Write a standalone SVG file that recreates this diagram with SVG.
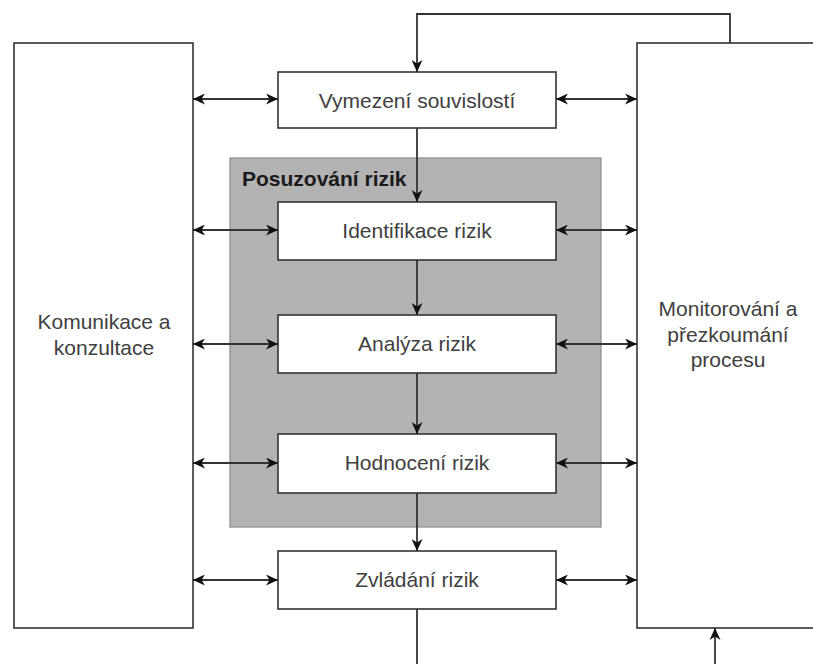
<svg xmlns="http://www.w3.org/2000/svg" width="813" height="664" viewBox="0 0 813 664">
<style>
.box{fill:#ffffff;stroke:#333333;stroke-width:1.6}
.grp{fill:#b3b3b3;stroke:#8a8a8a;stroke-width:1.2}
.lbl{font-family:"Liberation Sans",Arial,Helvetica,sans-serif;font-size:21px;fill:#404040;text-anchor:middle}
.bold{font-family:"Liberation Sans",Arial,Helvetica,sans-serif;font-size:21px;font-weight:bold;fill:#1a1a1a}
.ln{fill:none;stroke:#333333;stroke-width:1.8}
.arr{marker-end:url(#ah)}
.bi{marker-start:url(#ah);marker-end:url(#ah)}
</style>
<defs>
<marker id="ah" viewBox="0 0 12 11" refX="12" refY="5.5" markerWidth="12" markerHeight="11" markerUnits="userSpaceOnUse" orient="auto-start-reverse">
<path d="M0,0 L12,5.5 L0,11 L3.5,5.5 z" fill="#111111"/>
</marker>
</defs>
<rect width="813" height="664" fill="#ffffff"/>
<g id="komunikace">
<rect class="box" x="14" y="43" width="179" height="585"/>
<text class="lbl" x="104" y="329">Komunikace a</text>
<text class="lbl" x="104" y="355">konzultace</text>
</g>
<g id="monitorovani">
<rect class="box" x="637" y="43" width="190" height="585"/>
<text class="lbl" x="728" y="316">Monitorování a</text>
<text class="lbl" x="728" y="342">přezkoumání</text>
<text class="lbl" x="728" y="367">procesu</text>
</g>
<g id="posuzovani">
<rect class="grp" x="230" y="158" width="371" height="369"/>
<text class="bold" x="242" y="186">Posuzování rizik</text>
</g>
<g id="vymezeni">
<rect class="box" x="278" y="72" width="278" height="56"/>
<text class="lbl" x="417" y="108">Vymezení souvislostí</text>
</g>
<g id="identifikace">
<rect class="box" x="278" y="202" width="278" height="58"/>
<text class="lbl" x="417" y="238">Identifikace rizik</text>
</g>
<g id="analyza">
<rect class="box" x="278" y="315" width="278" height="58"/>
<text class="lbl" x="417" y="351">Analýza rizik</text>
</g>
<g id="hodnoceni">
<rect class="box" x="278" y="434" width="278" height="59"/>
<text class="lbl" x="417" y="470">Hodnocení rizik</text>
</g>
<g id="zvladani">
<rect class="box" x="278" y="551" width="278" height="58"/>
<text class="lbl" x="417" y="587">Zvládání rizik</text>
</g>
<g id="connectors">
<path class="ln arr" d="M730,43 V14 H417 V72"/>
<path class="ln arr" d="M417,128 V202"/>
<path class="ln arr" d="M417,260 V315"/>
<path class="ln arr" d="M417,373 V434"/>
<path class="ln arr" d="M417,493 V551"/>
<path class="ln" d="M417,609 V664"/>
<path class="ln arr" d="M715,664 V628"/>
<path class="ln bi" d="M193,99 H278"/>
<path class="ln bi" d="M193,230 H278"/>
<path class="ln bi" d="M193,344 H278"/>
<path class="ln bi" d="M193,463 H278"/>
<path class="ln bi" d="M193,580 H278"/>
<path class="ln bi" d="M556,99 H637"/>
<path class="ln bi" d="M556,230 H637"/>
<path class="ln bi" d="M556,344 H637"/>
<path class="ln bi" d="M556,463 H637"/>
<path class="ln bi" d="M556,580 H637"/>
</g>
</svg>
